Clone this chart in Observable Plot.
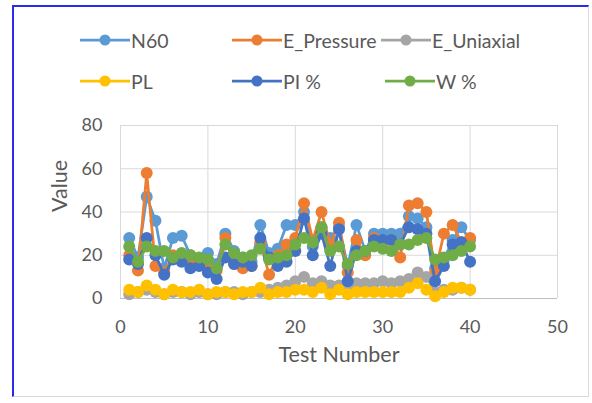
<!DOCTYPE html>
<html><head><meta charset="utf-8">
<script src="https://cdn.jsdelivr.net/npm/d3@7"></script>
<script src="https://cdn.jsdelivr.net/npm/@observablehq/plot@0.6"></script>
<style>
body{margin:0;background:#fff;font-family:Lato,"Open Sans",sans-serif;}
#frame{position:absolute;left:12px;top:5px;width:577px;height:392px;border-top:2px solid #2a2ae8;border-left:2px solid #2a2ae8;border-right:1px solid #d9d9d9;border-bottom:1px solid #d9d9d9;box-sizing:border-box;}
.item{position:absolute;display:flex;align-items:center;font-size:19.5px;color:#595959;height:24px;white-space:nowrap;}
.item svg{margin-right:1px;}
#chart{position:absolute;left:0;top:100px;}
</style></head>
<body>
<div id="frame"></div>
<div id="legend"></div>
<div id="chart"></div>
<script>
const testNumber = [1,2,3,4,5,6,7,8,9,10,11,12,13,14,15,16,17,18,19,20,21,22,23,24,25,26,27,28,29,30,31,32,33,34,35,36,37,38,39,40];
const seriesNames = ["N60","E_Pressure","E_Uniaxial","PL","PI %","W %"];
const seriesColors = ["#5B9BD5","#ED7D31","#A5A5A5","#FFC000","#4472C4","#70AD47"];
const N60 = [28,19,47,36,14,28,29,20,18,21,16,30,22,19,17,34,21,23,34,34,40,24,33,28,33,15,34,22,30,30,30,30,38,37,33,14,18,27,33,27];
const E_Pressure = [20,13,58,15,12,20,20,18,16,14,13,28,16,14,15,26,11,20,25,28,44,27,40,25,35,12,27,20,28,25,27,19,43,44,40,12,30,34,26,28];
const E_Uniaxial = [2,3,4,3,2,3,3,2,3,2,2,3,3,2,3,3,4,5,6,8,10,7,8,6,6,4,7,7,7,8,7,8,9,12,10,3,4,4,5,4];
const PL = [4,3,6,4,2,4,3,3,4,2,3,3,2,3,3,5,2,3,3,4,4,3,5,2,4,2,3,3,3,3,3,3,5,7,4,1,3,5,5,4];
const PI = [18,16,28,20,11,18,17,14,15,12,9,19,16,17,15,28,19,15,17,22,37,20,30,15,32,8,22,22,27,27,27,25,33,32,30,8,15,25,26,17];
const W = [24,17,24,22,22,19,21,20,19,18,14,25,21,19,20,23,18,19,20,25,28,26,33,22,24,16,20,22,24,23,22,25,25,27,28,18,19,20,22,24];
const seriesValues = [N60,E_Pressure,E_Uniaxial,PL,PI,W];
const xTicks = [0,10,20,30,40,50];
const yTicks = [0,20,40,60,80];

// legend
const legendPos = [[80,28],[232,28],[381,28],[80,69],[232,69],[385,69]];
const legend = document.getElementById("legend");
seriesNames.forEach((name,i)=>{
  const d = document.createElement("div");
  d.className = "item";
  d.style.left = legendPos[i][0]+"px";
  d.style.top = legendPos[i][1]+"px";
  d.innerHTML = `<svg width="50" height="14"><line x1="0" x2="50" y1="7" y2="7" stroke="${seriesColors[i]}" stroke-width="2.75"/><circle cx="25" cy="7" r="5.5" fill="${seriesColors[i]}"/></svg><span>${name}</span>`;
  legend.appendChild(d);
});

const marks = [];
marks.push(Plot.ruleY(yTicks, {stroke:"#d9d9d9", strokeWidth:1}));
marks.push(Plot.ruleX(xTicks, {stroke:"#d9d9d9", strokeWidth:1}));
marks.push(Plot.ruleY([0], {stroke:"#bfbfbf", strokeWidth:1}));
seriesValues.forEach((vals,i)=>{
  const data = testNumber.map((t,j)=>({x:t, y:vals[j]}));
  marks.push(Plot.line(data, {x:"x", y:"y", stroke:seriesColors[i], strokeWidth:2.75}));
  marks.push(Plot.dot(data, {x:"x", y:"y", r:6, fill:seriesColors[i], stroke:"none"}));
});
marks.push(Plot.axisX(xTicks, {tickSize:0, tickPadding:22, fontSize:18, fill:"#595959", label:null}));
marks.push(Plot.axisY(yTicks, {tickSize:0, tickPadding:18, fontSize:18, fill:"#595959", label:null}));
marks.push(Plot.text(["Test Number"], {frameAnchor:"bottom", dy:63, fontSize:21.5, fill:"#595959"}));
marks.push(Plot.text(["Value"], {frameAnchor:"left", dx:-60, rotate:-90, fontSize:21.5, fill:"#595959"}));

const chart = Plot.plot({
  width:592, height:300,
  marginTop:25, marginLeft:120, marginRight:35, marginBottom:102,
  x:{domain:[0,50]}, y:{domain:[0,80]},
  style:{fontFamily:"Lato, 'Open Sans', sans-serif", background:"transparent", overflow:"visible"},
  marks
});
document.getElementById("chart").appendChild(chart);
</script>
</body></html>
